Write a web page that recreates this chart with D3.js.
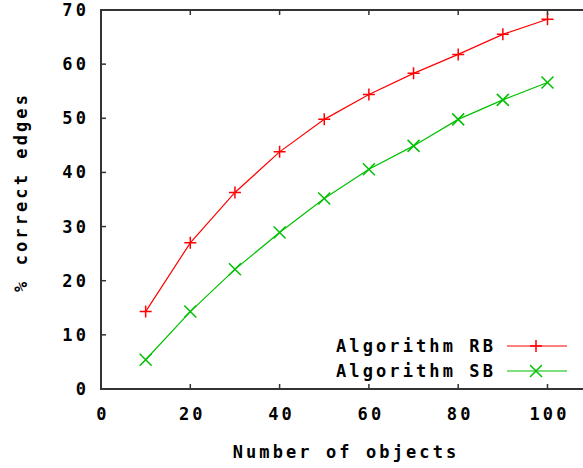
<!DOCTYPE html>
<html>
<head>
<meta charset="utf-8">
<script src="https://cdn.jsdelivr.net/npm/d3@7"></script>
<style>
  body { margin: 0; background: #fff; }
  svg text { font-family: "DejaVu Sans Mono", monospace; font-weight: bold; font-size: 17px; letter-spacing: 3.1px; fill: #000; }
</style>
</head>
<body>
<div id="chart"></div>
<script>
var objects = [10, 20, 30, 40, 50, 60, 70, 80, 90, 100];
var algorithmRB = [14.3, 27.0, 36.3, 43.8, 49.8, 54.4, 58.3, 61.8, 65.5, 68.3];
var algorithmSB = [5.4, 14.3, 22.1, 28.9, 35.2, 40.6, 44.9, 49.8, 53.4, 56.6];
var xTicks = [0, 20, 40, 60, 80, 100];
var yTicks = [0, 10, 20, 30, 40, 50, 60, 70];

var width = 583, height = 468;
var plotLeft = 101, plotTop = 10, plotBottom = 389;

var x = d3.scaleLinear().domain([0, 110]).range([plotLeft, plotLeft + 4.465 * 110]);
var y = d3.scaleLinear().domain([0, 70]).range([plotBottom, plotTop]);

var svg = d3.select('#chart').append('svg')
    .attr('width', width)
    .attr('height', height);

var series = [
    { name: 'Algorithm RB', values: algorithmRB, color: '#ff0000', mark: 'plus' },
    { name: 'Algorithm SB', values: algorithmSB, color: '#00c000', mark: 'cross' }
];

function marker(g, mark, color) {
    var s = 6;
    var p = mark === 'plus'
        ? 'M' + (-s) + ',0H' + s + 'M0,' + (-s) + 'V' + s
        : 'M' + (-s) + ',' + (-s) + 'L' + s + ',' + s + 'M' + (-s) + ',' + s + 'L' + s + ',' + (-s);
    g.append('path').attr('d', p).attr('stroke', color).attr('stroke-width', 1.5).attr('fill', 'none');
}

// lines and points
var line = d3.line()
    .x(function(d, i) { return x(objects[i]); })
    .y(function(d) { return y(d); });

series.forEach(function(s) {
    svg.append('path')
        .datum(s.values)
        .attr('d', line)
        .attr('fill', 'none')
        .attr('stroke', s.color)
        .attr('stroke-width', 1.2);

    svg.append('g').selectAll('g')
        .data(s.values)
        .enter()
        .append('g')
        .attr('transform', function(d, i) { return 'translate(' + x(objects[i]) + ',' + y(d) + ')'; })
        .each(function() { marker(d3.select(this), s.mark, s.color); });
});

// border and ticks
var axisColor = '#333';
svg.append('rect')
    .attr('x', x(0)).attr('y', plotTop)
    .attr('width', x(110) - x(0)).attr('height', plotBottom - plotTop)
    .attr('fill', 'none').attr('stroke', axisColor).attr('stroke-width', 2);

svg.append('g').selectAll('path')
    .data(xTicks.slice(1))
    .enter()
    .append('path')
    .attr('d', function(d) { return 'M' + x(d) + ',' + plotBottom + 'v-5M' + x(d) + ',' + plotTop + 'v5'; })
    .attr('stroke', axisColor).attr('stroke-width', 1.5);

svg.append('g').selectAll('path')
    .data(yTicks.slice(1, -1))
    .enter()
    .append('path')
    .attr('d', function(d) { return 'M' + plotLeft + ',' + y(d) + 'h5'; })
    .attr('stroke', axisColor).attr('stroke-width', 1.5);

svg.append('g').selectAll('text')
    .data(xTicks)
    .enter()
    .append('text')
    .attr('x', function(d) { return x(d) + 2; })
    .attr('y', 420)
    .attr('text-anchor', 'middle')
    .text(function(d) { return d; });

svg.append('g').selectAll('text')
    .data(yTicks)
    .enter()
    .append('text')
    .attr('x', 89)
    .attr('y', function(d) { return y(d) + 6; })
    .attr('text-anchor', 'end')
    .text(function(d) { return d; });

svg.append('text')
    .attr('x', 346).attr('y', 458)
    .attr('text-anchor', 'middle')
    .text('Number of objects');

svg.append('text')
    .attr('transform', 'translate(27,192) rotate(-90)')
    .attr('text-anchor', 'middle')
    .text('% correct edges');

// legend
var legend = svg.append('g').selectAll('g')
    .data(series)
    .enter()
    .append('g')
    .attr('transform', function(d, i) { return 'translate(0,' + (346 + i * 25) + ')'; });

legend.append('text')
    .attr('x', 496).attr('y', 6)
    .attr('text-anchor', 'end')
    .text(function(d) { return d.name; });

legend.append('path')
    .attr('d', 'M507,0H567')
    .attr('stroke', function(d) { return d.color; })
    .attr('stroke-width', 1.2);

legend.append('g')
    .attr('transform', 'translate(536,0)')
    .each(function(d) { marker(d3.select(this), d.mark, d.color); });
</script>
</body>
</html>
